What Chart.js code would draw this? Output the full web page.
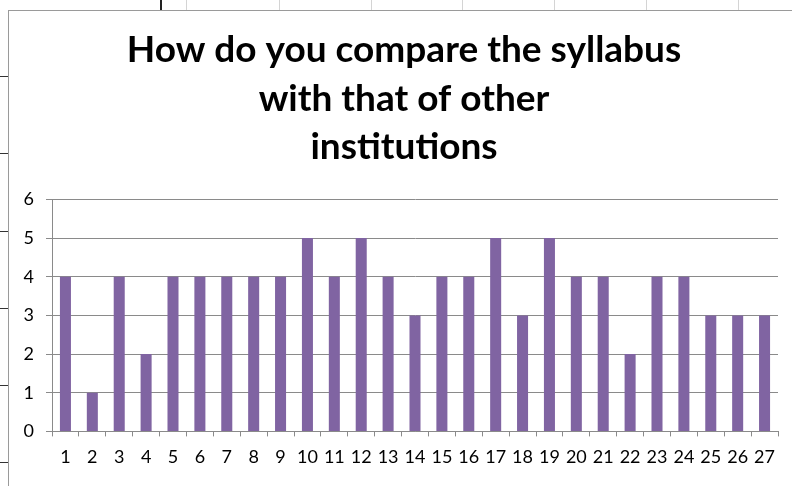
<!DOCTYPE html>
<html>
<head>
<meta charset="utf-8">
<script src="https://cdn.jsdelivr.net/npm/chart.js@4.4.0/dist/chart.umd.min.js"></script>
<style>
  html, body { margin: 0; padding: 0; background: #fff; overflow: hidden; }
  #wrap { position: relative; width: 792px; height: 486px; }
  #frame { position: absolute; left: 8px; top: 10px; right: -2px; bottom: -2px; border-left: 1px solid #9a9a9a; border-top: 1px solid #9a9a9a; }
  .col { position: absolute; top: 0; width: 1px; height: 10px; background: #d4d4d4; }
  .row { position: absolute; left: 0; width: 8px; height: 1px; background: #333; }
  canvas { position: absolute; left: 0; top: 0; }
</style>
</head>
<body>
<div id="wrap">
  <div class="col" style="left:160px;background:#222;width:2px"></div>
  <div class="col" style="left:186px"></div>
  <div class="col" style="left:279px"></div>
  <div class="col" style="left:371px"></div>
  <div class="col" style="left:462px"></div>
  <div class="col" style="left:554px"></div>
  <div class="col" style="left:646px"></div>
  <div class="col" style="left:738px"></div>
  <div class="row" style="top:76px"></div>
  <div class="row" style="top:153px"></div>
  <div class="row" style="top:231px"></div>
  <div class="row" style="top:308px"></div>
  <div class="row" style="top:385px"></div>
  <div class="row" style="top:462px"></div>
  <div id="frame"></div>
  <canvas id="myChart" width="792" height="486"></canvas>
</div>
<script>
const ctx = document.getElementById('myChart')

const respondents = ['1', '2', '3', '4', '5', '6', '7', '8', '9', '10', '11', '12', '13', '14',
  '15', '16', '17', '18', '19', '20', '21', '22', '23', '24', '25', '26', '27']
const ratings = [4, 1, 4, 2, 4, 4, 4, 4, 4, 5, 4, 5, 4, 3, 4, 4, 5, 3, 5, 4, 4, 2, 4, 4, 3, 3, 3]
const titleLines = ['How do you compare the syllabus', 'with that of other', 'institutions']

const gridGray = '#8a8a8a'

new Chart(ctx, {
  type: 'bar',
  data: {
    labels: respondents,
    datasets: [
      {
        label: 'Rating',
        data: ratings,
        backgroundColor: '#8064A2',
        borderWidth: 0,
        categoryPercentage: 1,
        barPercentage: 0.41,
      },
    ],
  },
  options: {
    responsive: false,
    animation: false,
    layout: {
      padding: { left: 16, right: 0, top: 0, bottom: 8 },
    },
    plugins: {
      legend: { display: false },
      tooltip: { enabled: false },
      title: {
        display: true,
        text: titleLines,
        color: '#000',
        font: { family: 'Lato', size: 37, weight: 'bold', lineHeight: 1.31 },
        padding: { top: 26, bottom: 28 },
      },
    },
    scales: {
      x: {
        grid: {
          offset: true,
          drawOnChartArea: false,
          drawTicks: true,
          tickLength: 5,
          color: gridGray,
        },
        border: { color: gridGray, width: 1 },
        ticks: {
          color: '#000',
          font: { family: 'Lato', size: 18 },
          padding: 10,
          maxRotation: 0,
          autoSkip: false,
        },
      },
      y: {
        min: 0,
        max: 6,
        ticks: {
          stepSize: 1,
          color: '#000',
          font: { family: 'Lato', size: 18 },
          padding: 12,
        },
        grid: {
          color: gridGray,
          tickLength: 6,
        },
        border: { color: gridGray, width: 1 },
        afterFit: (scale) => {
          scale.width = 36
        },
      },
      y2: {
        position: 'right',
        display: true,
        grid: { display: false },
        border: { display: false },
        ticks: { display: false },
        afterFit: (scale) => {
          scale.width = 14
        },
      },
    },
  },
})
</script>
</body>
</html>
